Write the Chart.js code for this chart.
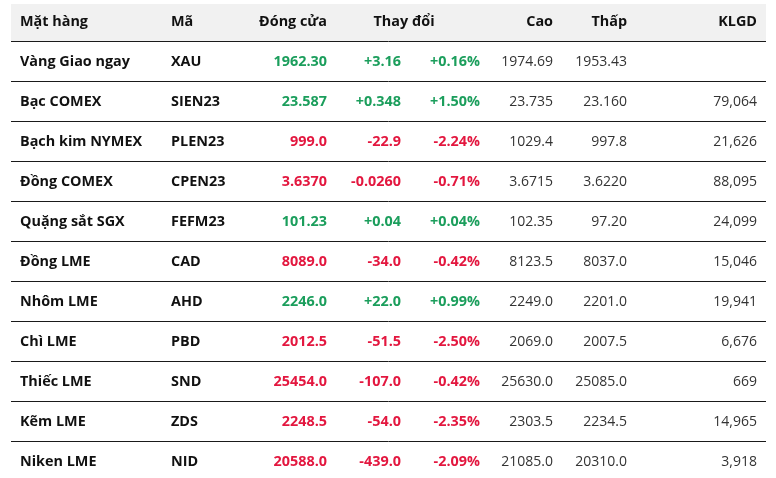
<!DOCTYPE html>
<html>
<head>
<meta charset="utf-8">
<script src="https://cdn.jsdelivr.net/npm/chart.js@4.4.0/dist/chart.umd.min.js"></script>
<style>
  html, body { margin: 0; padding: 0; background: #fff; overflow: hidden; }
  #wrap { width: 776px; height: 481px; }
</style>
</head>
<body>
<div id="wrap"><canvas id="bang" width="776" height="481"></canvas></div>
<script>
// dữ liệu bảng giá kim loại
const headers = ['Mặt hàng', 'Mã', 'Đóng cửa', 'Thay đổi', 'Cao', 'Thấp', 'KLGD'];
const names = ['Vàng Giao ngay', 'Bạc COMEX', 'Bạch kim NYMEX', 'Đồng COMEX', 'Quặng sắt SGX',
               'Đồng LME', 'Nhôm LME', 'Chì LME', 'Thiếc LME', 'Kẽm LME', 'Niken LME'];
const codes = ['XAU', 'SIEN23', 'PLEN23', 'CPEN23', 'FEFM23', 'CAD', 'AHD', 'PBD', 'SND', 'ZDS', 'NID'];
const closes = [1962.30, 23.587, 999.0, 3.6370, 101.23, 8089.0, 2246.0, 2012.5, 25454.0, 2248.5, 20588.0];
const changes = [3.16, 0.348, -22.9, -0.0260, 0.04, -34.0, 22.0, -51.5, -107.0, -54.0, -439.0];
const pctChanges = [0.16, 1.50, -2.24, -0.71, 0.04, -0.42, 0.99, -2.50, -0.42, -2.35, -2.09];
const highs = [1974.69, 23.735, 1029.4, 3.6715, 102.35, 8123.5, 2249.0, 2069.0, 25630.0, 2303.5, 21085.0];
const lows = [1953.43, 23.160, 997.8, 3.6220, 97.20, 8037.0, 2201.0, 2007.5, 25085.0, 2234.5, 20310.0];
const volumes = [null, 79064, 21626, 88095, 24099, 15046, 19941, 6676, 669, 14965, 3918];
const decimals = [2, 3, 1, 4, 2, 1, 1, 1, 1, 1, 1];

// màu sắc, font
const GREEN = '#1b9e5c';
const RED = '#e3173f';
const DARK = '#111';
const PLAIN = '#333';
const FONT = '"Open Sans", "Noto Sans", sans-serif';

const rowLabels = ['__header'].concat(names);
const signColor = v => v >= 0 ? GREEN : RED;
const signed = (v, d) => (v > 0 ? '+' : '') + v.toFixed(d);

// vị trí cột (theo trục x), căn lề
const cols = [
  { x: 20,  align: 'left',  bold: true, text: i => names[i], color: () => DARK },
  { x: 171, align: 'left',  bold: true, text: i => codes[i], color: () => DARK },
  { x: 327, align: 'right', bold: true, text: i => closes[i].toFixed(decimals[i]), color: i => signColor(changes[i]) },
  { x: 401, align: 'right', bold: true, text: i => signed(changes[i], decimals[i]), color: i => signColor(changes[i]) },
  { x: 480, align: 'right', bold: true, text: i => signed(pctChanges[i], 2) + '%', color: i => signColor(pctChanges[i]) },
  { x: 553, align: 'right', bold: false, text: i => highs[i].toFixed(decimals[i]), color: () => PLAIN },
  { x: 627, align: 'right', bold: false, text: i => lows[i].toFixed(decimals[i]), color: () => PLAIN },
  { x: 757, align: 'right', bold: false, text: i => volumes[i] == null ? '' : volumes[i].toLocaleString('en-US'), color: () => PLAIN }
];
const headerCols = [
  { x: 20,  align: 'left' },
  { x: 171, align: 'left' },
  { x: 327, align: 'right' },
  { x: 404, align: 'center' },
  { x: 553, align: 'right' },
  { x: 627, align: 'right' },
  { x: 757, align: 'right' }
];

let datasets = [];
// hàng tiêu đề
datasets.push({
  label: 'header',
  data: headers.map((h, k) => ({ x: headerCols[k].x, y: '__header' })),
  cellText: headers,
  cellColor: headers.map(() => DARK),
  cellAlign: headerCols.map(c => c.align),
  cellBold: true
});
// các cột dữ liệu
for (const c of cols) {
  datasets.push({
    label: 'col' + c.x,
    data: names.map(n => ({ x: c.x, y: n })),
    cellText: names.map((n, i) => c.text(i)),
    cellColor: names.map((n, i) => c.color(i)),
    cellAlign: names.map(() => c.align),
    cellBold: c.bold
  });
}

// nền xám cho hàng tiêu đề
const headerBand = {
  id: 'headerBand',
  beforeDraw(chart) {
    const { ctx, chartArea, scales } = chart;
    const yc = scales.y.getPixelForValue(0);
    ctx.save();
    ctx.fillStyle = '#f1f1f1';
    ctx.fillRect(chartArea.left, yc - 17, chartArea.right - chartArea.left, 37);
    ctx.restore();
  }
};

// vẽ chữ trong từng ô
const cellText = {
  id: 'cellText',
  afterDatasetsDraw(chart) {
    const ctx = chart.ctx;
    ctx.save();
    ctx.textBaseline = 'middle';
    chart.data.datasets.forEach((ds, di) => {
      const meta = chart.getDatasetMeta(di);
      ctx.font = ds.cellBold ? 'bold 14.4px ' + FONT : 'normal 14px ' + FONT;
      meta.data.forEach((pt, i) => {
        ctx.fillStyle = ds.cellColor[i];
        ctx.textAlign = ds.cellAlign[i];
        ctx.fillText(ds.cellText[i], pt.x, pt.y + 1);
      });
    });
    ctx.restore();
  }
};

new Chart(document.getElementById('bang'), {
  type: 'scatter',
  data: { datasets: datasets },
  options: {
    responsive: false,
    animation: false,
    devicePixelRatio: 1,
    layout: { padding: { left: 11, right: 10, top: 1, bottom: 0 } },
    elements: { point: { radius: 0, hoverRadius: 0 } },
    plugins: { legend: { display: false }, tooltip: { enabled: false } },
    events: [],
    scales: {
      x: { type: 'linear', display: false, min: 11, max: 766 },
      y: {
        type: 'category',
        labels: rowLabels,
        offset: true,
        border: { display: false },
        ticks: { display: false },
        grid: {
          offset: true,
          drawTicks: false,
          lineWidth: 1,
          color: c => c.index === 0 ? 'rgba(0,0,0,0)' : '#1a1a1a'
        }
      }
    }
  },
  plugins: [headerBand, cellText]
});
</script>
</body>
</html>
